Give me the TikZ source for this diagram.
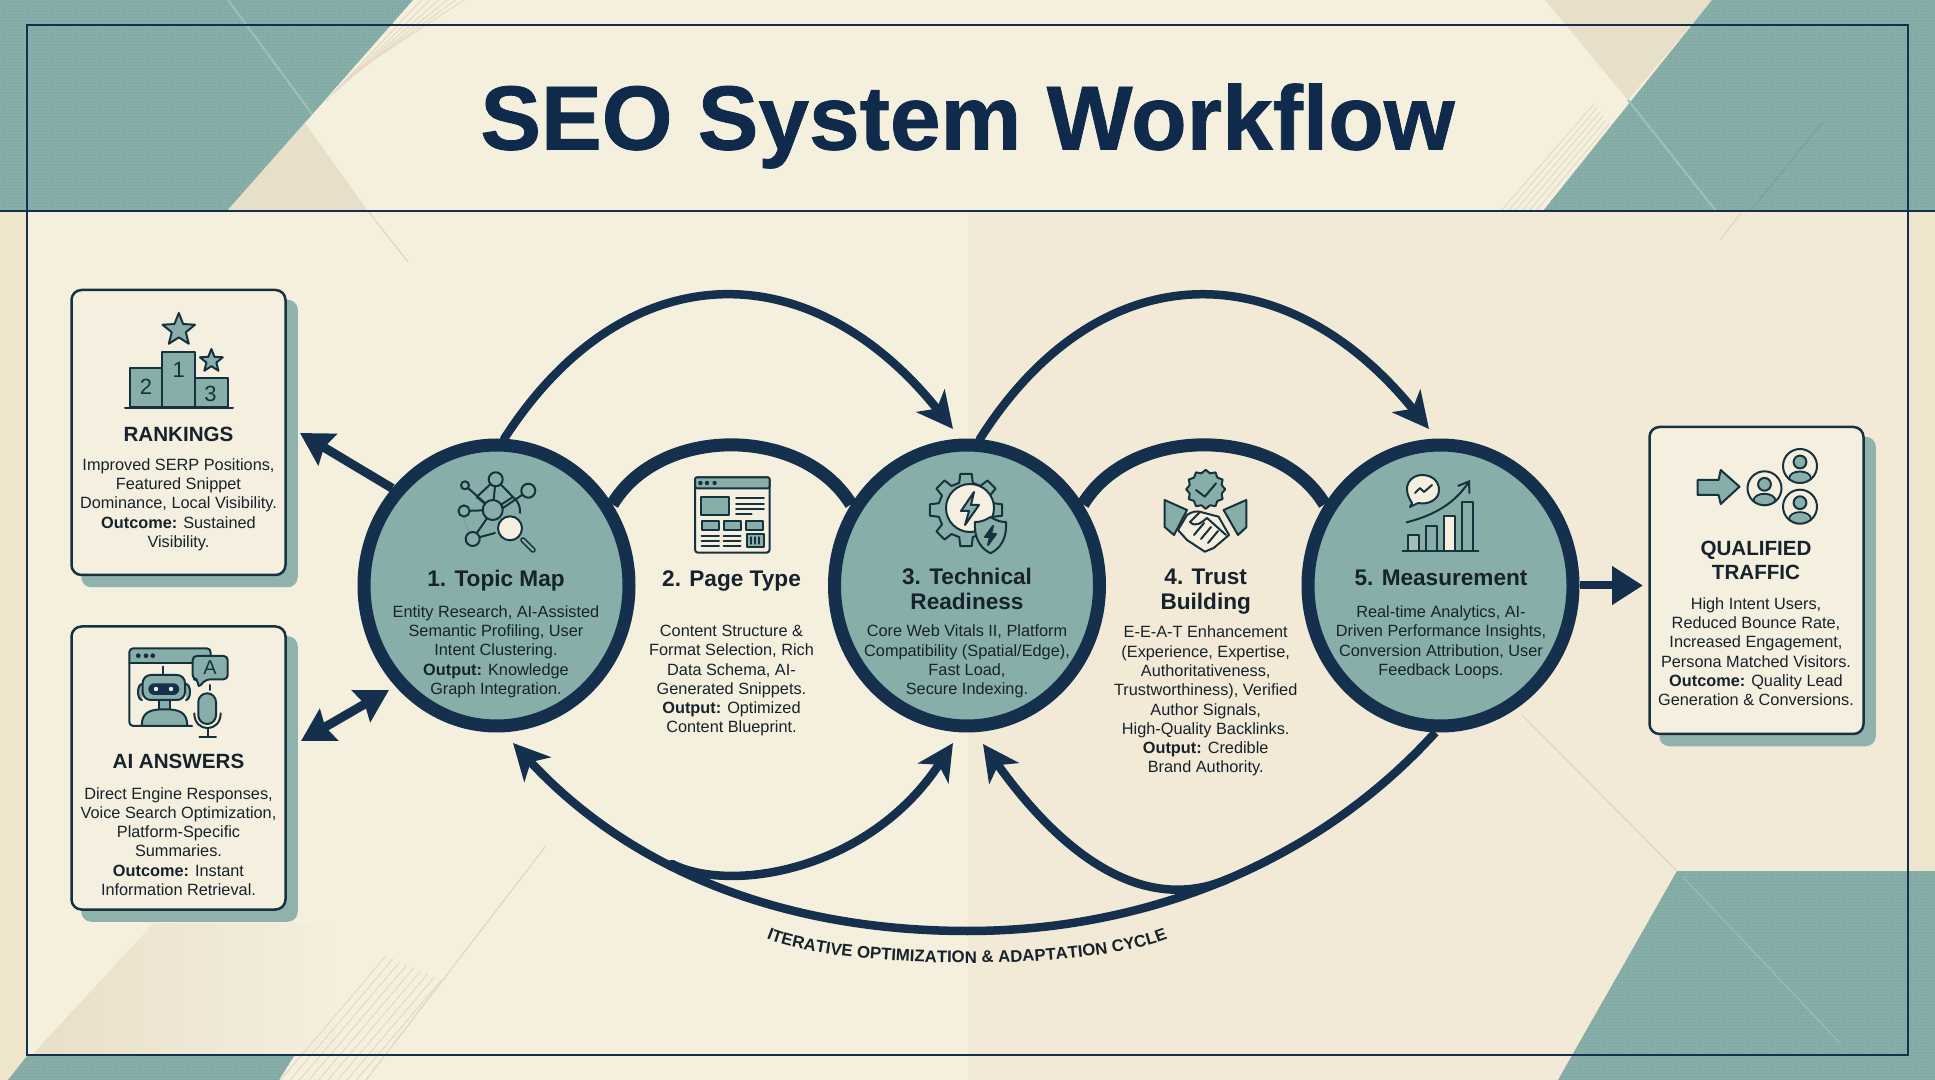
\documentclass[tikz,border=0pt]{standalone}
\usepackage{fontspec}
\setmainfont{Liberation Sans}
\newfontfamily\titlefont{Liberation Sans}[BoldFeatures={FakeBold=0.9}]
\usetikzlibrary{arrows.meta,shapes.geometric,backgrounds,decorations.text,patterns}

\definecolor{paper}{HTML}{F5EFDE}
\definecolor{paperdark}{HTML}{F2EAD6}
\definecolor{strip}{HTML}{EFE4CC}
\definecolor{tan}{HTML}{E8DFC8}
\definecolor{tanline}{HTML}{DDD3BA}
\definecolor{stripecol}{HTML}{E4DAC3}
\definecolor{teal}{HTML}{88AEA9}
\definecolor{tealdark}{HTML}{7AA39E}
\definecolor{teallight}{HTML}{A0BFB9}
\definecolor{navy}{HTML}{14304D}
\definecolor{titlenavy}{HTML}{0F2A4A}
\definecolor{ink}{HTML}{16222C}
\definecolor{iconline}{HTML}{17323F}
\definecolor{cardcream}{HTML}{F5EFDF}
\definecolor{shadowteal}{HTML}{8FB2AD}

\pgfdeclarepatternformonly{tealdots}{\pgfqpoint{-0.5pt}{-0.5pt}}{\pgfqpoint{1pt}{1pt}}{\pgfqpoint{1.5pt}{1.5pt}}{
  \pgfpathrectangle{\pgfqpoint{0pt}{0pt}}{\pgfqpoint{0.75pt}{0.75pt}}
  \pgfusepath{fill}
}

\newcommand{\iterfont}{\fontsize{8.4}{9}\selectfont\bfseries}

\tikzset{
  ring/.style={ellipse, draw=navy, fill=teal, line width=6.5pt, minimum width=132.5pt, minimum height=140.5pt, inner sep=0pt},
  card/.style={rectangle, draw=iconline, fill=cardcream, line width=1.25pt, rounded corners=5pt, minimum width=107pt, inner sep=0pt},
  cardshadow/.style={fill=shadowteal, rounded corners=5pt},
  bodytext/.style={font=\fontsize{8.15}{9.65}\selectfont, text=ink, align=center, inner sep=0pt, yshift=-1pt},
  steptitle/.style={font=\fontsize{11.3}{12.8}\selectfont\bfseries, text=ink, align=center, inner sep=0pt},
  cardtitle/.style={font=\fontsize{10.3}{12}\selectfont\bfseries, text=ink, align=center, inner sep=0pt},
  bigarc/.style={draw=navy, line width=4.25pt, line cap=round, -{Stealth[length=18pt,width=18pt,inset=5pt]}},
  archline/.style={draw=navy, line width=6.5pt},
  sidearrow/.style={draw=navy, line width=4.5pt, -{Stealth[length=16pt,width=18pt,inset=2pt]}},
  icon/.style={draw=iconline, line width=1pt, line join=round, line cap=round},
  iconfill/.style={icon, fill=teal},
  iconpaper/.style={icon, fill=cardcream},
  stripeline/.style={draw=stripecol, line width=0.5pt},
  tealzone/.style={fill=teal, postaction={pattern=tealdots, pattern color=tealdark}},
}

\begin{document}
\begin{tikzpicture}[x=0.5pt, y=-0.5pt]
\useasboundingbox (0,0) rectangle (1935,1080);

% Circles
\node[ring] (topic) at (496.5,585.5) {};
\node[ring] (tech) at (967,585.5) {};
\node[ring] (measure) at (1440.5,585.5) {};

% Cards
\node[card, minimum height=142.5pt] (rank) at (178.5,432.5) {};
\node[card, minimum height=141.5pt] (answers) at (178.5,768) {};
\node[card, minimum height=153.5pt] (traffic) at (1756.5,580.5) {};

% Free ends
\coordinate (rankTip) at (300,433);
\coordinate (answersTip) at (301,741);
\coordinate (topicTip) at (389,690);
\coordinate (trafficTip) at (1643,585.5);
\coordinate (mergeLeft) at (672,864);
\coordinate (mergeRight) at (1227,879.5);
\coordinate (bottomMid) at (967.5,931);

\begin{scope}[on background layer]
% Paper
\fill[paper] (0,0) rectangle (1935,1080);
\fill[paperdark] (968,211) rectangle (1935,1080);
\fill[strip] (0,211) rectangle (27,1080);
\fill[strip] (1908,211) rectangle (1935,1080);

% Corners
\fill[tealzone] (0,0) -- (413,0) -- (227,211) -- (0,211) -- cycle;
\fill[tan] (305,123) -- (227,211) -- (368,211) -- cycle;
\draw[teallight, line width=1pt] (228,0) -- (312,114);
\draw[tanline, line width=0.5pt] (368,211) -- (408,262);
\foreach \k in {1,...,6}
  \draw[stripeline] (413+\k*8.5,0) -- (320+\k*6,107-\k*6);

\fill[tan] (1545,0) -- (1712,0) -- (1628,100) -- cycle;
\fill[tealzone] (1712,0) -- (1935,0) -- (1935,211) -- (1543,211) -- cycle;
\draw[teallight, line width=1pt] (1628,100) -- (1716,211);
\draw[tealdark, line width=0.6pt] (1750,211) -- (1823,122);
\draw[tanline, line width=0.5pt] (1741,213) -- (1720,240);
\foreach \k in {1,...,6}
  \draw[stripeline] (1543-\k*7,211) -- (1612-\k*3,128-\k*4);

\fill[tealzone] (1677,871) -- (1935,871) -- (1935,1080) -- (1558,1080) -- cycle;
\draw[teallight, line width=0.5pt] (1683,877) -- (1840,1043);
\draw[tanline, line width=0.5pt] (1522,715) -- (1677,871);

\shade[left color=tan, right color=paper] (32,1055) -- (154,923) -- (345,923) -- (345,1055) -- cycle;
\fill[tealzone] (27,1056) -- (294,1056) -- (279,1080) -- (8,1080) -- cycle;
\draw[tanline, line width=0.5pt] (545,847) -- (366,1080);
\foreach \k in {1,...,9}
  \draw[stripeline] (366-\k*9.5,1080) -- (366-\k*9.5+0.85*97+\k*2.55,983-\k*3);

% Frame
\draw[navy, line width=1.4pt] (27,25) rectangle (1908,1055);
\draw[navy, line width=1.4pt] (0,211) -- (1935,211);

% Shadows
\fill[cardshadow] ([shift={(11,11)}]rank.north west) rectangle ([shift={(11,11)}]rank.south east);
\fill[cardshadow] ([shift={(11,11)}]answers.north west) rectangle ([shift={(11,11)}]answers.south east);
\fill[cardshadow] ([shift={(11,11)}]traffic.north west) rectangle ([shift={(11,11)}]traffic.south east);

% Arches
\draw[archline] (topic.35) .. controls (660,425) and (802,425) .. (tech.145);
\draw[archline] (tech.35) .. controls (1131,425) and (1277,425) .. (measure.145);

% Upper arcs
\draw[bigarc] (topic.87) .. controls (625,251) and (811,251) .. (953,429);
\draw[bigarc] (tech.85) .. controls (1099,251) and (1285,251) .. (1429,429);

% Lower arcs
\draw[bigarc] (bottomMid) .. controls (800,931) and (640,880) .. (513,743);
\draw[draw=navy, line width=4.25pt] (bottomMid) .. controls (1150,931) and (1320,860) .. (measure.268);
\draw[bigarc] (mergeLeft) .. controls (732,894) and (870,870) .. (953,743);
\draw[bigarc] (mergeRight) .. controls (1137,917) and (1055,845) .. (983,744);

% Side arrows
\draw[sidearrow] (topic.137) -- (rankTip);
\draw[sidearrow, {Stealth[length=16pt,width=18pt,inset=2pt]}-{Stealth[length=16pt,width=18pt,inset=2pt]}] (answersTip) -- (topicTip);
\draw[sidearrow, line width=4pt, -{Stealth[length=15.5pt,width=18.5pt,inset=0pt]}] (measure.east) -- (trafficTip);
\end{scope}

% Title
\node[font=\titlefont\fontsize{45.5}{50}\selectfont\bfseries, text=titlenavy, inner sep=0pt] (title) at (967.5,126) {SEO System Workflow};

% Cycle label
\path[decorate, decoration={text along path, text align=center, text color=ink,
  text={|\iterfont|ITERATIVE OPTIMIZATION {\&} ADAPTATION CYCLE}}]
  (760,936) .. controls (832,972) and (1100,972) .. (1174,936);

% Step texts
\node[steptitle] (topicname) at (496,580.5) {1. Topic Map};
\node[bodytext] (topicbody) at (496,649.5) {Entity Research, AI-Assisted\\Semantic Profiling, User\\Intent Clustering.\\\textbf{Output:} Knowledge\\Graph Integration.};
\node[steptitle] (pagename) at (731.5,581.5) {2. Page Type};
\node[bodytext] (pagebody) at (731.5,678.7) {Content Structure \&\\Format Selection, Rich\\Data Schema, AI-\\Generated Snippets.\\\textbf{Output:} Optimized\\Content Blueprint.};
\node[steptitle] (techname) at (967,589) {3. Technical\\Readiness};
\node[bodytext] (techbody) at (967,659.5) {Core Web Vitals II, Platform\\Compatibility (Spatial/Edge),\\Fast Load,\\Secure Indexing.};
\node[steptitle] (trustname) at (1205.7,591.5) {4. Trust\\Building};
\node[bodytext] (trustbody) at (1205.7,699.2) {E-E-A-T Enhancement\\(Experience, Expertise,\\Authoritativeness,\\Trustworthiness), Verified\\Author Signals,\\High-Quality Backlinks.\\\textbf{Output:} Credible\\Brand Authority.};
\node[steptitle] (measurename) at (1441,577.7) {5. Measurement};
\node[bodytext] (measurebody) at (1441,640.4) {Real-time Analytics, AI-\\Driven Performance Insights,\\Conversion Attribution, User\\Feedback Loops.};

% Card texts
\node[cardtitle] (rankname) at (178.5,434.6) {RANKINGS};
\node[bodytext] (rankbody) at (178.5,502.5) {Improved SERP Positions,\\Featured Snippet\\Dominance, Local Visibility.\\\textbf{Outcome:} Sustained\\Visibility.};
\node[cardtitle] (answersname) at (178.5,761) {AI ANSWERS};
\node[bodytext] (answersbody) at (178.5,839.5) {Direct Engine Responses,\\Voice Search Optimization,\\Platform-Specific\\Summaries.\\\textbf{Outcome:} Instant\\Information Retrieval.};
\node[cardtitle] (trafficname) at (1756,560) {QUALIFIED\\TRAFFIC};
\node[bodytext] (trafficbody) at (1756,649.7) {High Intent Users,\\Reduced Bounce Rate,\\Increased Engagement,\\Persona Matched Visitors.\\\textbf{Outcome:} Quality Lead\\Generation \& Conversions.};

% Icon podium
\draw[iconfill] (130,407) rectangle (161.6,368);
\draw[iconfill] (161.6,407) rectangle (195,351.7);
\draw[iconfill] (195,407) rectangle (227.8,378.3);
\draw[icon] (125,407.7) -- (233,407.7);
\node[font=\fontsize{11}{12}\selectfont, text=iconline, inner sep=0pt] (podtwo) at (146,386.7) {2};
\node[font=\fontsize{11}{12}\selectfont, text=iconline, inner sep=0pt] (podone) at (178.8,370) {1};
\node[font=\fontsize{11}{12}\selectfont, text=iconline, inner sep=0pt] (podthree) at (210.6,394) {3};
\node[star, star points=5, star point ratio=2.3, iconfill, minimum size=17pt, inner sep=0pt] (bigstar) at (178.8,330) {};
\node[star, star points=5, star point ratio=2.3, iconfill, minimum size=12pt, inner sep=0pt] (smallstar) at (211.4,361) {};

% Icon robot
\fill[teal, rounded corners=2pt] (129.3,662.7) -- (129.3,648.3) -- (210.7,648.3) -- (210.7,662.7) -- cycle;
\draw[icon, rounded corners=2pt] (192,726) -- (129.3,726) -- (129.3,648.3) -- (210.7,648.3) -- (210.7,660);
\draw[icon] (129.3,662.7) -- (193,662.7);
\foreach \dx in {138.3,146,152.7}
  \fill[iconline] (\dx,655.7) circle (1.2pt);
\draw[icon] (163.3,666.7) -- (163.3,675);
\draw[iconfill] (142,684) arc (90:270:2pt and 4pt);
\draw[iconfill] (186,684) arc (90:-90:2pt and 4pt);
\draw[iconfill] (159.3,700) rectangle (170,710);
\draw[iconfill, rounded corners=4pt] (142.7,675) rectangle (185,700);
\fill[navy, rounded corners=3pt] (148.3,683.3) rectangle (179.3,695);
\fill[cardcream] (156,689) circle (1.1pt) (171,689) circle (1.1pt);
\draw[iconfill] (141.7,726) .. controls (141.7,712) and (150,709.3) .. (164.5,709.3) .. controls (179,709.3) and (187.3,712) .. (187.3,726) -- cycle;
\draw[iconfill, rounded corners=2pt] (192.7,656) -- (227.7,656) -- (227.7,679.3) -- (206,679.3) -- (198,688) -- (198,679.3) -- (192.7,679.3) -- cycle;
\node[font=\fontsize{10}{12}\selectfont, text=iconline, inner sep=0pt] (bubbleA) at (210,668) {A};
\draw[icon] (210,685) -- (210,690);
\draw[iconfill, rounded corners=4.4pt] (198.3,693.3) rectangle (216,724);
\draw[icon] (194.3,713.3) .. controls (194.3,733) and (220.7,733) .. (220.7,713.3);
\draw[icon] (207.7,729) -- (207.7,736.7) (199.3,736.7) -- (216,736.7);

% Icon topic map
\draw[icon] (495.7,479.3) -- (492.7,510) (495.7,479.3) -- (476.7,497) -- (492.7,510) (495.7,479.3) -- (513,497) -- (492.7,510);
\draw[icon] (465,485.3) -- (492.7,510) (528.3,490.7) -- (500,510) (464,511) -- (492.7,510) (472.7,539) -- (492.7,510);
\draw[icon] (472.7,539) -- (495,533);
\draw[icon] (513,497) .. controls (520,503) and (520,508) .. (520,513);
\draw[tealdark, line width=0.8pt] (464,516) .. controls (465,525) and (468,530) .. (470,533);
\draw[iconfill] (495.7,479.3) circle (3.5pt);
\draw[iconfill] (465,485.3) circle (2pt);
\draw[iconfill] (528.3,490.7) circle (3.5pt);
\draw[iconfill] (464,511) circle (2.8pt);
\draw[iconfill] (492.7,510) circle (5pt);
\draw[iconfill] (472.7,539) circle (3.5pt);
\draw[draw=iconline, line width=2.8pt, line cap=round] (523,540) -- (533,550);
\draw[draw=teal, line width=1.2pt, line cap=round] (523,540) -- (533,550);
\draw[icon, fill=cardcream] (510,528.3) circle (6pt);

% Icon page
\draw[icon, fill=cardcream, rounded corners=1.5pt] (695,477.3) rectangle (769.6,552.7);
\draw[iconfill, rounded corners=1pt] (695,477.3) rectangle (769.6,488.3);
\foreach \dx in {700.4,707,714.6}
  \fill[iconline] (\dx,483) circle (1.1pt);
\draw[iconfill] (701,497.3) rectangle (729.4,515);
\foreach \ly in {498.3,504,509.3}
  \draw[icon] (736,\ly) -- (763.8,\ly);
\draw[icon] (736,514.3) -- (751.7,514.3);
\draw[iconfill] (701.7,521) rectangle (719,530);
\draw[iconfill] (724,521) rectangle (740.5,530);
\draw[iconfill] (746,521) rectangle (762.9,530);
\foreach \ly in {535.7,540.7,545.7} {
  \draw[icon] (701.7,\ly) -- (719,\ly);
  \draw[icon] (723.6,\ly) -- (740.5,\ly);
}
\draw[iconfill] (747,534) rectangle (763.8,546.7);
\draw[icon, line width=0.6pt] (751,537) -- (751,544) (755,537) -- (755,544) (759,537) -- (759,544);

% Icon gear
\begin{scope}[shift={(966,510)}]
\draw[icon] (-9:36.5) \foreach \a in {0,45,...,315} {
  -- (\a-9:36.5) -- (\a+9:36.5) -- (\a+14:28) -- (\a+31:28)
} -- cycle;
\end{scope}
\draw[icon, fill=cardcream] (970,508) circle (12pt);
\draw[icon, fill=teal] (974,492) -- (961,511) -- (969,511) -- (965,525) -- (979,505) -- (971,505) -- cycle;
\draw[iconfill] (990.5,517) .. controls (997,521) and (1001,522) .. (1006,522) .. controls (1007,538) and (1001,548) .. (990.5,553.3) .. controls (980,548) and (974,538) .. (975,522) .. controls (980,522) and (984,521) .. (990.5,517) -- cycle;
\draw[icon, fill=iconline] (993,526) -- (985,537) -- (990,537) -- (988,545) -- (996,534) -- (991,534) -- cycle;

% Icon handshake
\node[star, star points=12, star point ratio=1.18, iconfill, minimum size=19.5pt, inner sep=0pt] (badge) at (1205.7,489.3) {};
\draw[icon] (1196,490) -- (1204.8,496.7) -- (1216,483.3);
\draw[iconfill] (1164.6,500) -- (1187,510) -- (1174,535) -- (1164.6,527) -- cycle;
\draw[iconfill] (1246.3,500) -- (1223.6,510) -- (1238,535) -- (1246.3,527.3) -- cycle;
\draw[iconpaper] (1187,515) .. controls (1193,511) and (1197,511) .. (1200.7,512) -- (1218.6,516.7) -- (1229,535) -- (1213.7,548) -- (1204.8,551.7) -- (1187,540) -- (1178,530) -- cycle;
\draw[icon] (1200,512) -- (1190,522) .. controls (1196,528) and (1202,522) .. (1207,518) -- (1226,535);
\draw[icon] (1218,531) -- (1208,543) (1211,527) -- (1201,539) (1204,523) -- (1194,535);

% Icon chart
\draw[icon, fill=teallight] (1408,551) rectangle (1419.3,535);
\draw[iconfill] (1426,551) rectangle (1437.3,526);
\draw[iconpaper] (1444,551) rectangle (1455,515.7);
\draw[iconfill] (1461.7,551) rectangle (1473.3,501.7);
\draw[icon] (1402.7,551) -- (1478.3,551);
\draw[icon, -{Straight Barb[length=5pt,width=7pt]}] (1406.7,522.3) .. controls (1435,515) and (1455,503) .. (1470,480);
\draw[iconpaper] (1412,503) .. controls (1400,485) and (1412,475) .. (1421.7,475) .. controls (1433,475) and (1439,482) .. (1439,490) .. controls (1439,500) and (1428,505) .. (1418,503) -- (1410,507) -- cycle;
\draw[icon] (1415,493) -- (1420,488) -- (1424,492) -- (1432,485);

% Icon visitors
\draw[iconfill] (1697.7,480) -- (1718.6,480) -- (1720.7,470) -- (1739.5,486.7) -- (1720.7,504) -- (1718.6,495) -- (1697.7,495) -- cycle;
\foreach \cx/\cy in {1764.5/488.3,1800/466,1800/506.7} {
  \begin{scope}
    \clip (\cx,\cy) circle (8.5pt);
    \fill[teal] (\cx-11,\cy+17) .. controls (\cx-11,\cy+3) and (\cx+11,\cy+3) .. (\cx+11,\cy+17) -- cycle;
  \end{scope}
  \draw[icon] (\cx-11,\cy+13) .. controls (\cx-11,\cy+3) and (\cx+11,\cy+3) .. (\cx+11,\cy+13);
  \draw[iconfill] (\cx,\cy-4) circle (3.2pt);
  \draw[icon] (\cx,\cy) circle (8.5pt);
}
\end{tikzpicture}
\end{document}
